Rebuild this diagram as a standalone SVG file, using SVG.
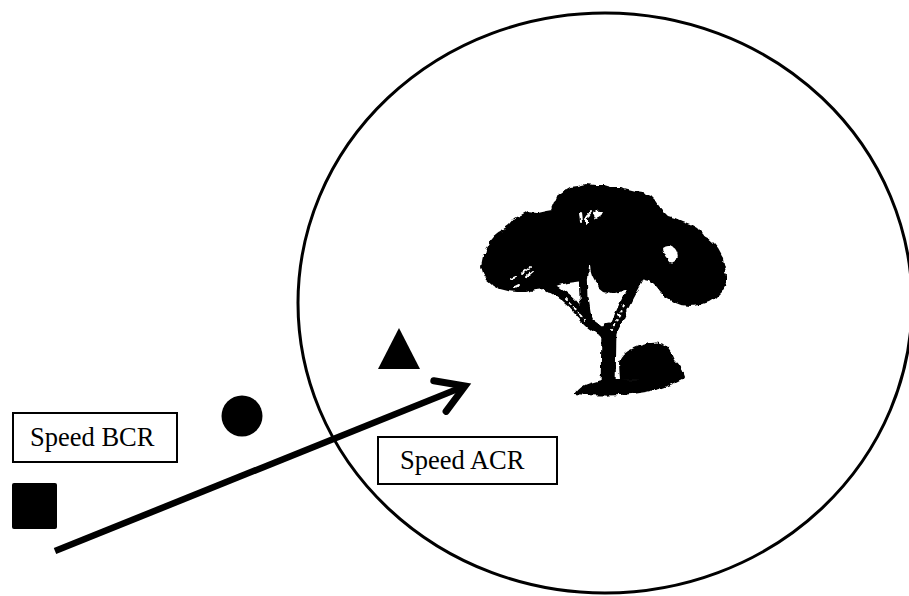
<svg xmlns="http://www.w3.org/2000/svg" width="909" height="596" viewBox="0 0 909 596">
  <style>
    .label-box { fill: #ffffff; stroke: #000000; stroke-width: 2; }
    .label-text { font-size: 26.5px; fill: #000000; }
    .solid { fill: #000000; stroke: none; }
    .zone { fill: none; stroke: #000000; stroke-width: 3; }
    .arrow { fill: none; stroke: #000000; stroke-width: 6.5; }
    .branch { fill: none; stroke: #000000; stroke-linecap: round; stroke-linejoin: round; }
    .gap { fill: #ffffff; stroke: none; }
    .gap-line { fill: none; stroke: #ffffff; stroke-width: 2; stroke-linecap: round; }
  </style>
  <defs>
    <marker id="open-head" markerUnits="userSpaceOnUse" viewBox="-34 -22 40 44" refX="0" refY="0" markerWidth="40" markerHeight="44" orient="auto" overflow="visible">
      <path d="M -27 -16.5 L 0 0 L -27 16.5" fill="none" stroke="#000000" stroke-width="7" stroke-linecap="round" stroke-linejoin="miter"/>
    </marker>
    <!-- ragged silhouette edge for the tree -->
    <filter id="rough" x="-10%" y="-10%" width="120%" height="120%">
      <feTurbulence type="fractalNoise" baseFrequency="0.14" numOctaves="2" seed="4" result="noise"/>
      <feDisplacementMap in="SourceGraphic" in2="noise" scale="5" xChannelSelector="R" yChannelSelector="G"/>
    </filter>
  </defs>

  <rect x="0" y="0" width="909" height="596" fill="#ffffff"/>

  <!-- zone boundary -->
  <g id="zone">
    <ellipse class="zone" cx="605" cy="303" rx="307" ry="290"/>
  </g>

  <!-- tree silhouette -->
  <g id="tree" filter="url(#rough)">
    <path class="solid" d="
      M 481 266 L 483 256 L 489 250 L 493 242 L 499 236 L 502 230 L 509 225 L 515 218 L 521 215 L 528 211
      L 537 212 L 546 210 L 552 209 L 555 202 L 558 195 L 565 190 L 570 187 L 578 186 L 586 184 L 595 185
      L 604 185 L 611 187 L 620 187 L 628 189 L 636 191 L 643 192 L 650 195 L 655 200 L 659 206 L 663 211
      L 668 216 L 675 218 L 682 221 L 690 224 L 697 228 L 703 234 L 708 242 L 713 248 L 718 255 L 722 261
      L 725 267 L 727 275 L 727 284 L 723 291 L 717 297 L 709 302 L 700 305 L 690 306 L 681 305 L 673 302
      L 666 298 L 660 292 L 655 286 L 650 281 L 645 280 L 640 277 L 636 274 L 633 277 L 630 282 L 625 288
      L 619 292 L 611 294 L 604 292 L 599 288 L 596 281 L 594 273 L 592 264 L 589 265 L 588 279 L 582 281
      L 575 282 L 567 283 L 559 285 L 551 287 L 543 289 L 535 290 L 526 292 L 517 292 L 508 291
      L 500 289 L 493 285 L 487 280 L 483 273 Z"/>
    <!-- lobes -->
    <circle class="solid" cx="515" cy="258" r="30"/>
    <circle class="solid" cx="555" cy="245" r="32"/>
    <circle class="solid" cx="600" cy="222" r="35"/>
    <circle class="solid" cx="640" cy="232" r="30"/>
    <circle class="solid" cx="690" cy="267" r="34"/>
    <circle class="solid" cx="617" cy="265" r="27"/>
    <!-- branches and trunk -->
    <path class="branch" stroke-width="10" d="M 548 286 Q 568 297 578 310 Q 590 326 607 334"/>
    <path class="branch" stroke-width="9" d="M 583 270 L 584 298 L 587 318"/>
    <path class="branch" stroke-width="10" d="M 641 274 Q 627 298 619 317 Q 613 330 609 337"/>
    <path class="branch" stroke-width="15" stroke-linecap="butt" d="M 609 330 L 608 388"/>
    <!-- ground shadow and bush -->
    <path class="solid" d="M 575 394 Q 580 386 590 383 Q 600 380 606 379 L 620 379 Q 650 381 683 372 L 685 378 Q 662 391 632 394 Q 600 397 575 394 Z"/>
    <path class="solid" d="M 620 380 L 619 362 Q 622 353 632 349 Q 641 345 650 343 Q 661 341 667 346 Q 672 352 675 360 Q 682 367 684 374 L 684 379 Z"/>
    <!-- light gaps in the crown -->
    <path class="gap-line" d="M 581 213 L 582 222"/>
    <path class="gap-line" d="M 586 224 Q 585 216 591 211"/>
    <path class="gap" d="M 593 213 Q 598 209 604 212 Q 602 217 596 219 Z"/>
    <path class="gap" d="M 663 247 Q 670 242 676 250 Q 680 257 675 262 Q 670 266 668 259 Q 663 255 663 247 Z"/>
    <path class="gap-line" d="M 521 274 L 530 267"/>
    <path class="gap-line" d="M 526 277 L 533 271"/>
    <path class="gap-line" d="M 511 279 L 516 277"/>
    <path class="gap-line" d="M 515 287 L 519 285"/>
    <!-- bark flecks -->
    <path class="gap-line" stroke-width="1.2" stroke-dasharray="1.5 4" d="M 566 299 Q 576 309 584 320"/>
    <path class="gap-line" stroke-width="1.2" stroke-dasharray="1.5 4" d="M 624 305 Q 618 318 612 330"/>
  </g>

  <g id="triangle">
    <path class="solid" d="M 399 328 L 420 369 L 378 369 Z" stroke="#000000" stroke-width="2" stroke-linejoin="round"/>
  </g>

  <g id="dot">
    <circle class="solid" cx="242" cy="416" r="20.5"/>
  </g>

  <g id="square">
    <rect class="solid" x="12" y="483" width="45" height="46" rx="2"/>
  </g>

  <g id="label-bcr">
    <rect class="label-box" x="13" y="413" width="164" height="49"/>
    <text class="label-text" font-family="'Liberation Serif', 'DejaVu Serif', serif" x="30" y="446">Speed BCR</text>
  </g>

  <g id="label-acr">
    <rect class="label-box" x="378" y="437" width="179" height="47"/>
    <text class="label-text" font-family="'Liberation Serif', 'DejaVu Serif', serif" x="400" y="469">Speed ACR</text>
  </g>

  <g id="connectors">
    <line class="arrow" x1="55" y1="551" x2="465" y2="386" marker-end="url(#open-head)"/>
  </g>
</svg>
